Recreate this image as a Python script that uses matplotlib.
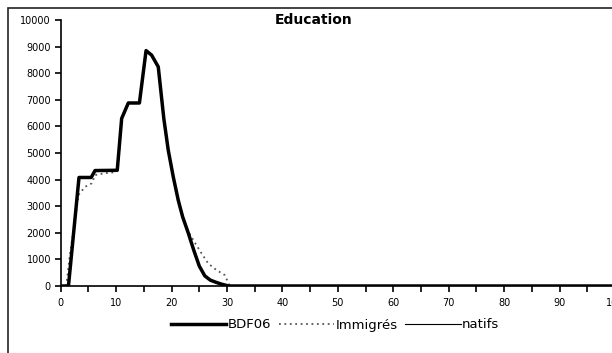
import matplotlib
matplotlib.use("Agg")
import matplotlib.pyplot as plt
from matplotlib.patches import Rectangle

plt.rcParams['font.family'] = ['DejaVu Sans']

title = "Education"
series_names = ["BDF06", "Immigrés", "natifs"]

ages_bdf = [0, 1.4, 3.3, 5.5, 6.2, 10.2, 11, 12.2, 14.2, 15.4, 16.4, 17.6, 18.6, 19.4,
            20.3, 21.2, 22, 23, 24, 25, 26, 27, 28, 29, 30.3, 100]
bdf06 = [0, 0, 4080, 4080, 4340, 4350, 6300, 6880, 6880, 8850, 8680, 8240, 6300, 5110,
         4110, 3230, 2600, 2000, 1350, 750, 380, 220, 140, 70, 0, 0]

ages_imm = [0, 1, 1.7, 2.6, 3.2, 4.4, 5.6, 6.2, 8, 9.4, 10.3, 11, 12.2, 14.2, 15.4, 16.4,
            17.6, 18.6, 19.4, 20.3, 21.2, 22, 23, 24, 25.4, 26.6, 28.1, 29.6, 30.5, 100]
immigres = [0, 0, 1240, 2480, 3420, 3730, 3860, 4170, 4240, 4270, 4350, 6300, 6880, 6880,
            8850, 8680, 8240, 6300, 5110, 4110, 3230, 2620, 2050, 1700, 1230, 850, 600, 410, 0, 0]

ages_nat = ages_bdf
natifs = bdf06

xticks = list(range(0, 101, 5))
xticklabels = [str(v) if v % 10 == 0 else "" for v in xticks]
yticks = list(range(0, 10001, 1000))

W, H = 612, 353
fig = plt.figure(figsize=(W / 100, H / 100), dpi=100)

ax = fig.add_axes([60.7 / W, 1 - 286 / H, (615 - 60.7) / W, (286 - 20) / H])
ax.plot(ages_imm, immigres, color='#555555', lw=1.3, ls=(0, (1, 2)), label=series_names[1], zorder=2)
ax.plot(ages_bdf, bdf06, color='black', lw=2.5, label=series_names[0], zorder=3)
ax.plot(ages_nat, natifs, color='black', lw=0.8, label=series_names[2], zorder=4)

ax.set_xlim(0, 100)
ax.set_ylim(0, 10000)
ax.set_xticks(xticks)
ax.set_xticklabels(xticklabels)
ax.set_yticks(yticks)
ax.set_yticklabels([str(v) for v in yticks])
for s in ['top', 'right']:
    ax.spines[s].set_visible(False)
for s in ['left', 'bottom']:
    ax.spines[s].set_linewidth(1.2)
ax.tick_params(axis='both', direction='out', length=4, width=1.2, labelsize=7, pad=3)
ax.tick_params(axis='x', pad=5)
ax.patch.set_alpha(0)

fig.text(314 / W, 1 - 20 / H, title, ha='center', va='center', fontsize=10, fontweight='bold')

handles, labels = ax.get_legend_handles_labels()
order = [labels.index(n) for n in series_names]
leg = fig.legend([handles[i] for i in order], [labels[i] for i in order],
                 loc='center', bbox_to_anchor=(335 / W, 1 - 325 / H), ncol=3, frameon=False,
                 fontsize=9.5, handlelength=4.2, handletextpad=0.1, columnspacing=0.6)

fig.patches.append(Rectangle((8 / W, -0.1), 1.2, 1 - 8 / H + 0.1, transform=fig.transFigure,
                             fill=False, edgecolor='#222222', lw=1.2))

fig.savefig("out.png", dpi=100)
